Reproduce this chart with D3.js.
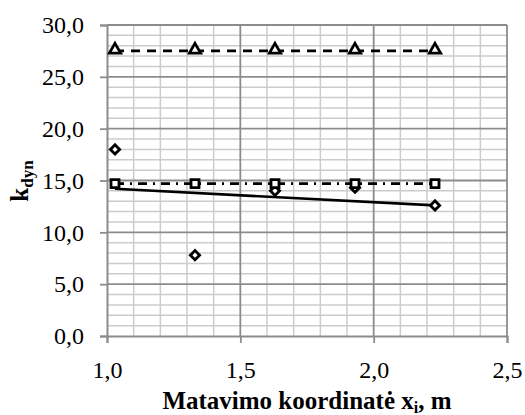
<!DOCTYPE html>
<html><head><meta charset="utf-8">
<script src="https://cdn.jsdelivr.net/npm/d3@7"></script>
<style>body{margin:0;background:#fff}svg{display:block}</style>
</head><body>
<script>
const xPositions = [1.03, 1.33, 1.63, 1.93, 2.23];
const triangleValues = [27.5, 27.5, 27.5, 27.5, 27.5];
const squareValues = [14.7, 14.7, 14.7, 14.7, 14.7];
const diamondValues = [18.0, 7.8, 14.0, 14.3, 12.6];
const trendX = [1.03, 2.23];
const trendValues = [14.2, 12.6];
const xTicks = [1.0, 1.5, 2.0, 2.5];
const yTicks = [0, 5, 10, 15, 20, 25, 30];

const W = 525, H = 415;
const svg = d3.select("body").append("svg").attr("width", W).attr("height", H);
const x = d3.scaleLinear().domain([1, 2.5]).range([107, 507]);
const y = d3.scaleLinear().domain([0, 30]).range([336, 25]);
const fmt = v => d3.format(".1f")(v).replace(".", ",");
const font = "Liberation Serif, Times New Roman, serif";

const g = svg.append("g");
const minorX = d3.range(11, 25).map(v => v / 10).filter(v => Math.abs(v * 2 - Math.round(v * 2)) > 1e-6);
const minorY = d3.range(1, 30).filter(v => v % 5 !== 0);
g.selectAll(".mx").data(minorX).join("line")
  .attr("x1", d => x(d)).attr("x2", d => x(d)).attr("y1", y(0)).attr("y2", y(30))
  .attr("stroke", "#cccccc").attr("stroke-width", 1.5);
g.selectAll(".my").data(minorY).join("line")
  .attr("x1", x(1)).attr("x2", x(2.5)).attr("y1", d => y(d)).attr("y2", d => y(d))
  .attr("stroke", "#cccccc").attr("stroke-width", 1.5);
g.selectAll(".Mx").data([1.5, 2.0, 2.5]).join("line")
  .attr("x1", d => x(d)).attr("x2", d => x(d)).attr("y1", y(0)).attr("y2", y(30))
  .attr("stroke", "#8c8c8c").attr("stroke-width", 1.8);
g.selectAll(".My").data([5, 10, 15, 20, 25, 30]).join("line")
  .attr("x1", x(1)).attr("x2", x(2.5)).attr("y1", d => y(d)).attr("y2", d => y(d))
  .attr("stroke", "#8c8c8c").attr("stroke-width", 1.8);

const xAxis = d3.axisBottom(x).tickValues(xTicks).tickFormat(fmt).tickSize(7).tickPadding(12);
const yAxis = d3.axisLeft(y).tickValues(yTicks).tickFormat(fmt).tickSize(7).tickPadding(16);
const gx = svg.append("g").attr("transform", `translate(0,${y(0)})`).call(xAxis);
const gy = svg.append("g").attr("transform", `translate(${x(1)},0)`).call(yAxis);
gx.attr("font-family", null).attr("font-size", null);
gy.attr("font-family", null).attr("font-size", null);
gx.select(".domain").attr("stroke", "#8c8c8c").attr("stroke-width", 2);
gy.select(".domain").attr("stroke", "#8c8c8c").attr("stroke-width", 2);
svg.selectAll(".tick line").attr("stroke", "#8c8c8c").attr("stroke-width", 1.8);
svg.selectAll(".tick text").style("font-family", font).style("font-size", "24px").attr("fill", "#000");
gx.selectAll(".tick text").attr("dy", null).attr("y", 42);

const line = d3.line().x(d => x(d[0])).y(d => y(d[1]));
svg.append("path").datum(xPositions.map((v, i) => [v, triangleValues[i]]))
  .attr("d", line).attr("fill", "none").attr("stroke", "#000").attr("stroke-width", 2.6)
  .attr("stroke-dasharray", "9,7");
svg.append("path").datum(xPositions.map((v, i) => [v, squareValues[i]]))
  .attr("d", line).attr("fill", "none").attr("stroke", "#000").attr("stroke-width", 2.6)
  .attr("stroke-dasharray", "9,6,2,6");
svg.append("path").datum(trendX.map((v, i) => [v, trendValues[i]]))
  .attr("d", line).attr("fill", "none").attr("stroke", "#000").attr("stroke-width", 2.6);

const sym = (type, size) => d3.symbol().type(type).size(size)();
svg.selectAll(".tri").data(xPositions.map((v, i) => [v, triangleValues[i]])).join("path")
  .attr("transform", d => `translate(${x(d[0])},${y(d[1]) - 1})`)
  .attr("d", sym(d3.symbolTriangle, 55)).attr("fill", "#fff").attr("stroke", "#000").attr("stroke-width", 2.8);
svg.selectAll(".dia").data(xPositions.map((v, i) => [v, diamondValues[i]])).join("path")
  .attr("transform", d => `translate(${x(d[0])},${y(d[1])}) rotate(45)`)
  .attr("d", sym(d3.symbolSquare, 42)).attr("fill", "#fff").attr("stroke", "#000").attr("stroke-width", 2.8);
svg.selectAll(".sq").data(xPositions.map((v, i) => [v, squareValues[i]])).join("path")
  .attr("transform", d => `translate(${x(d[0])},${y(d[1])})`)
  .attr("d", sym(d3.symbolSquare, 64)).attr("fill", "#fff").attr("stroke", "#000").attr("stroke-width", 2.8);

const xt = svg.append("text").attr("x", 307).attr("y", 409).attr("text-anchor", "middle")
  .style("font-family", font).style("font-size", "25px").attr("font-weight", "bold");
xt.append("tspan").text("Matavimo koordinatė x");
xt.append("tspan").style("font-size", "16px").attr("dy", 4).text("i");
xt.append("tspan").attr("dy", -4).text(", m");

const yt = svg.append("text").attr("transform", "translate(28,181) rotate(-90)").attr("text-anchor", "middle")
  .style("font-family", font).style("font-size", "25px").attr("font-weight", "bold");
yt.append("tspan").text("k");
yt.append("tspan").style("font-size", "17px").attr("dy", 5).text("dyn");
</script>
</body></html>
